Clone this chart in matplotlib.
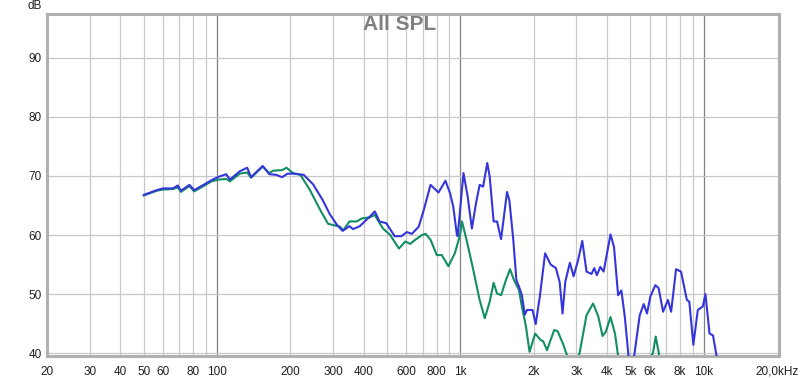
import matplotlib
matplotlib.use('Agg')
import matplotlib.pyplot as plt
import numpy as np

plt.rcParams['font.family'] = ['Liberation Sans', 'DejaVu Sans']

# blue trace
freq_blue = [50, 56.5, 60, 66, 69, 71, 77, 80.5, 88, 95, 102, 109, 113, 124, 133, 138,
             154, 164, 175, 185, 195, 205, 227, 248, 272, 290, 310, 328, 350, 362, 386,
             424, 445, 465, 496, 537, 573, 602, 632, 674, 707, 754, 813, 868, 907, 935,
             968, 975, 1030, 1072, 1115, 1160, 1200, 1240, 1290, 1320, 1370, 1415, 1470,
             1555, 1590, 1650, 1700, 1740, 1790, 1840, 1880, 1980, 2040, 2120, 2230,
             2350, 2470, 2560, 2630, 2700, 2820, 2920, 3050, 3170, 3300, 3460, 3550,
             3640, 3760, 3880, 4140, 4280, 4450, 4590, 4740, 4910, 5040, 5180, 5460,
             5670, 5850, 6040, 6330, 6530, 6810, 7130, 7350, 7700, 8070, 8530, 8730,
             9070, 9460, 9920, 10170, 10570, 10920, 11270, 11500]
spl_blue = [66.8, 67.6, 67.9, 67.9, 68.4, 67.5, 68.5, 67.6, 68.5, 69.3, 69.9, 70.3, 69.4,
            70.8, 71.4, 69.8, 71.7, 70.3, 70.2, 69.8, 70.4, 70.4, 70.2, 68.6, 65.9, 63.6,
            61.8, 60.7, 61.5, 61.0, 61.5, 63.1, 64.0, 62.3, 62.0, 59.8, 59.8, 60.5, 60.2,
            61.4, 64.2, 68.5, 67.2, 69.2, 67.1, 64.8, 60.0, 59.8, 70.5, 66.5, 61.1, 65.4,
            68.5, 68.2, 72.2, 69.9, 62.3, 62.3, 59.3, 67.3, 65.9, 59.2, 52.3, 51.3, 49.8,
            46.5, 47.3, 47.3, 44.9, 49.5, 56.9, 55.0, 54.4, 52.0, 46.7, 52.1, 55.3, 53.0,
            55.8, 59.0, 53.8, 53.4, 54.4, 53.2, 54.6, 53.8, 60.1, 58.0, 49.8, 50.6, 46.2,
            39.5, 36.0, 39.5, 46.4, 48.3, 46.7, 49.6, 51.5, 51.0, 47.0, 49.0, 47.0, 54.2,
            53.8, 49.0, 48.7, 41.4, 47.3, 47.9, 50.0, 43.3, 43.0, 39.8, 37.5]

# green trace
freq_green = [50, 56.5, 60, 66, 69, 71, 77, 80.5, 88, 95, 102, 109, 113, 124, 133, 138,
              154, 164, 170, 185, 193, 205, 220, 241, 265, 286, 320, 330, 350, 375, 393,
              424, 445, 458, 481, 515, 559, 594, 622, 653, 696, 719, 754, 800, 839, 893,
              949, 997, 1015, 1060, 1130, 1200, 1260, 1320, 1370, 1415, 1470, 1540, 1600,
              1660, 1740, 1790, 1860, 1925, 2030, 2140, 2190, 2270, 2430, 2510, 2640,
              2750, 2900, 3090, 3300, 3510, 3690, 3840, 3960, 4140, 4320, 4450, 4600,
              5300, 6190, 6350, 6540, 6700]
spl_green = [66.7, 67.5, 67.7, 67.8, 68.1, 67.3, 68.3, 67.4, 68.3, 69.1, 69.4, 69.5, 69.1,
             70.4, 70.6, 69.7, 71.6, 70.5, 70.9, 71.0, 71.4, 70.5, 70.2, 67.6, 64.3, 61.9,
             61.4, 60.8, 62.3, 62.3, 62.8, 63.0, 63.4, 62.5, 61.1, 60.0, 57.7, 58.9, 58.5,
             59.2, 60.0, 60.2, 59.2, 56.6, 56.6, 54.7, 56.9, 60.0, 62.3, 59.2, 54.1, 49.0,
             45.9, 48.7, 51.9, 50.1, 49.8, 52.4, 54.2, 52.4, 50.7, 47.9, 44.5, 40.2, 43.3,
             42.2, 42.0, 40.5, 43.9, 43.7, 41.6, 39.5, 37.0, 40.0, 46.4, 48.4, 46.2, 42.9,
             43.6, 46.1, 43.3, 39.5, 37.0, 36.0, 40.0, 42.8, 40.0, 37.0]

xtick_pos = [20, 30, 40, 50, 60, 80, 100, 200, 300, 400, 600, 800, 1000, 2000, 3000,
             4000, 5000, 6000, 8000, 10000, 20000]
xtick_lab = ['20', '30', '40', '50', '60', '80', '100', '200', '300', '400', '600', '800',
             '1k', '2k', '3k', '4k', '5k', '6k', '8k', '10k', '20,0kHz']
ytick_pos = [40, 50, 60, 70, 80, 90]

fig = plt.figure(figsize=(8, 3.78), dpi=100)
ax = fig.add_axes([47/800, 1-356/378, 732/800, 342/378])
ax.set_xscale('log')
ax.set_xlim(20, 20400)
ax.set_ylim(39.5, 97.45)

# grid
for dec in [10, 100, 1000]:
    for k in range(2, 10):
        f = k*dec
        if 20 < f < 20000:
            ax.axvline(f, color='#c8c8c8', lw=0.9, zorder=0)
for f in [100, 1000, 10000]:
    ax.axvline(f, color='#808080', lw=0.9, zorder=0)
for y in ytick_pos:
    ax.axhline(y, color='#c8c8c8', lw=0.9, zorder=0)

ax.plot(freq_green, spl_green, color='#138e63', lw=1.5, zorder=2)
ax.plot(freq_blue, spl_blue, color='#3535dc', lw=1.5, zorder=3)

ax.set_xticks(xtick_pos)
ax.set_xticklabels(xtick_lab)
ax.xaxis.set_minor_locator(matplotlib.ticker.NullLocator())
ax.set_yticks(ytick_pos)
ax.tick_params(length=0, labelsize=8.5, colors='#202020')
ax.tick_params(axis='x', pad=7)
ax.tick_params(axis='y', pad=4)

for s in ax.spines.values():
    s.set_color('#b0b0b0')
    s.set_linewidth(2.2)

fig.text(41.5/800, 1-6/378, 'dB', ha='right', va='center', fontsize=8.5, color='#202020')
fig.text(0.5, 1-25/378, 'All SPL', ha='center', va='center', fontsize=15,
         fontweight='bold', color='#808080')

fig.savefig('out.png', dpi=100)
